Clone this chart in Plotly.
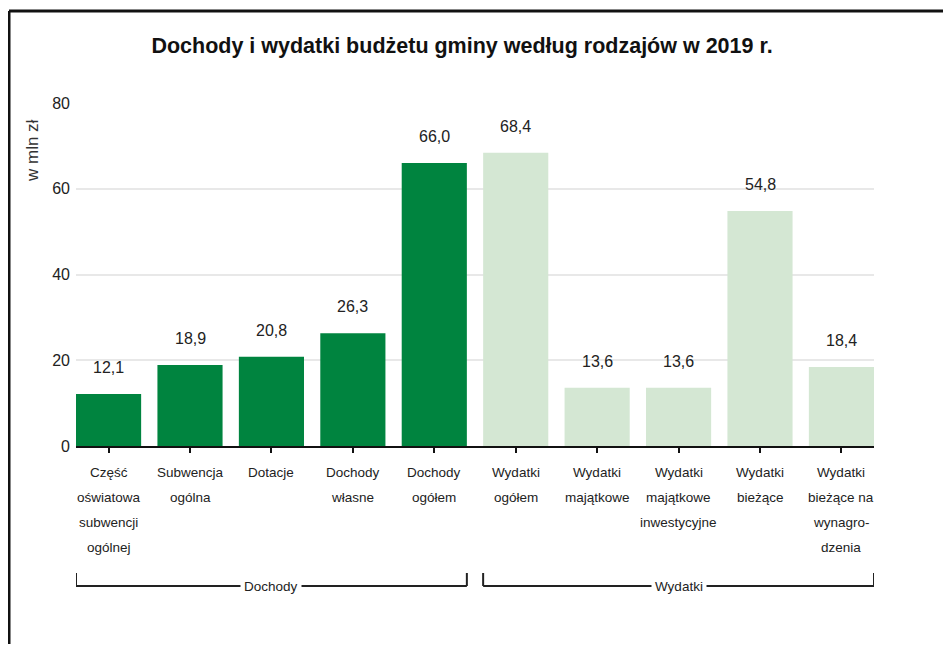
import plotly.graph_objects as go

categories = [
    "Część<br>oświatowa<br>subwencji<br>ogólnej",
    "Subwencja<br>ogólna",
    "Dotacje",
    "Dochody<br>własne",
    "Dochody<br>ogółem",
    "Wydatki<br>ogółem",
    "Wydatki<br>majątkowe",
    "Wydatki<br>majątkowe<br>inwestycyjne",
    "Wydatki<br>bieżące",
    "Wydatki<br>bieżące na<br>wynagro-<br>dzenia",
]
values = [12.1, 18.9, 20.8, 26.3, 66.0, 68.4, 13.6, 13.6, 54.8, 18.4]
groups = ["Dochody"] * 5 + ["Wydatki"] * 5
group_names = ["Dochody", "Wydatki"]
y_ticks = [0, 20, 40, 60, 80]

FONT = "Liberation Sans, Arial, sans-serif"
color_map = {"Dochody": "#00843F", "Wydatki": "#D4E7D3"}

# page body has an 8px margin: figure origin sits at (8, 8) in the window
OFF = 8
W, H = 935, 636
PL, PR, PT, PB = 76, 874, 103, 446  # plot area in window pixels
L, T = PL - OFF, PT - OFF
R, B = W - (PR - OFF), H - (PB - OFF)
pw, ph = PR - PL, PB - PT

def px_x(px):
    return (px - PL) / pw

def px_y(py):
    return (PB - py) / ph

fig = go.Figure()
fig.add_trace(go.Bar(
    x=list(range(len(categories))),
    y=values,
    marker=dict(color=[color_map[g] for g in groups], line=dict(width=0)),
    hoverinfo="skip",
))

annotations = []
for i, v in enumerate(values):
    annotations.append(dict(
        x=i, y=v, xref="x", yref="y",
        text=f"{v:.1f}".replace(".", ","),
        showarrow=False, yanchor="bottom", yshift=16,
        font=dict(family=FONT, size=16, color="#222222"),
    ))

# category labels, line by line (tall line spacing as in the original)
for i, cat in enumerate(categories):
    for j, line in enumerate(cat.split("<br>")):
        annotations.append(dict(
            x=i, y=0, xref="x", yref="y",
            text=line, showarrow=False, yanchor="middle",
            yshift=-(26 + 25 * j),
            font=dict(family=FONT, size=13.5, color="#222222"),
        ))

shapes = []
# group brackets
bracket_y = px_y(586)
bracket_top = px_y(573)
for gname in group_names:
    idx = [i for i, g in enumerate(groups) if g == gname]
    x0, x1 = idx[0] - 0.4, idx[-1] + 0.4
    shapes.append(dict(type="line", xref="x", yref="paper", x0=x0, x1=x1,
                       y0=bracket_y, y1=bracket_y, line=dict(color="#222222", width=2)))
    shapes.append(dict(type="line", xref="x", yref="paper", x0=x0, x1=x0,
                       y0=bracket_y, y1=bracket_top, line=dict(color="#222222", width=2)))
    shapes.append(dict(type="line", xref="x", yref="paper", x0=x1, x1=x1,
                       y0=bracket_y, y1=bracket_top, line=dict(color="#222222", width=2)))
    annotations.append(dict(
        x=(idx[0] + idx[-1]) / 2, y=bracket_y, xref="x", yref="paper",
        text=gname, showarrow=False, bgcolor="white", borderpad=3,
        xanchor="center", yanchor="middle", valign="middle",
        font=dict(family=FONT, size=13.5, color="#222222"),
    ))

# frame
shapes.append(dict(type="line", xref="paper", yref="paper", x0=px_x(9), x1=px_x(960),
                   y0=px_y(11), y1=px_y(11), line=dict(color="#111111", width=3)))
shapes.append(dict(type="line", xref="paper", yref="paper", x0=px_x(9), x1=px_x(9),
                   y0=px_y(11), y1=px_y(660), line=dict(color="#111111", width=3)))

# y axis title
annotations.append(dict(
    x=px_x(32), y=px_y(151), xref="paper", yref="paper",
    text="w mln zł", textangle=-90, showarrow=False,
    xanchor="center", yanchor="middle",
    font=dict(family=FONT, size=17, color="#333333"),
))

fig.update_layout(
    width=W, height=H,
    margin=dict(l=L, r=R, t=T, b=B, autoexpand=False),
    paper_bgcolor="white", plot_bgcolor="white",
    showlegend=False,
    bargap=0.2,
    title=dict(
        text="<b>Dochody i wydatki budżetu gminy według rodzajów w 2019 r.</b>",
        x=(462 - OFF) / W, xanchor="center",
        y=1 - (45 - OFF) / H, yanchor="middle", xref="container", yref="container",
        font=dict(family=FONT, size=21.5, color="#111111"),
    ),
    xaxis=dict(
        tickmode="array", tickvals=list(range(len(categories))),
        showticklabels=False,
        range=[-0.4, len(categories) - 0.6],
        showline=True, linecolor="#111111", linewidth=2,
        ticks="outside", ticklen=5, tickcolor="#111111", tickwidth=1.5,
        showgrid=False, zeroline=False,
    ),
    yaxis=dict(
        range=[0, 80], tickvals=y_ticks,
        showgrid=True, gridcolor="#e8e8e8", gridwidth=1.5,
        zeroline=False, showline=False, ticks="",
        tickfont=dict(family=FONT, size=16, color="#222222"),
        ticklabelstandoff=5,
    ),
    annotations=annotations,
    shapes=shapes,
)

fig.write_html("out.html")
